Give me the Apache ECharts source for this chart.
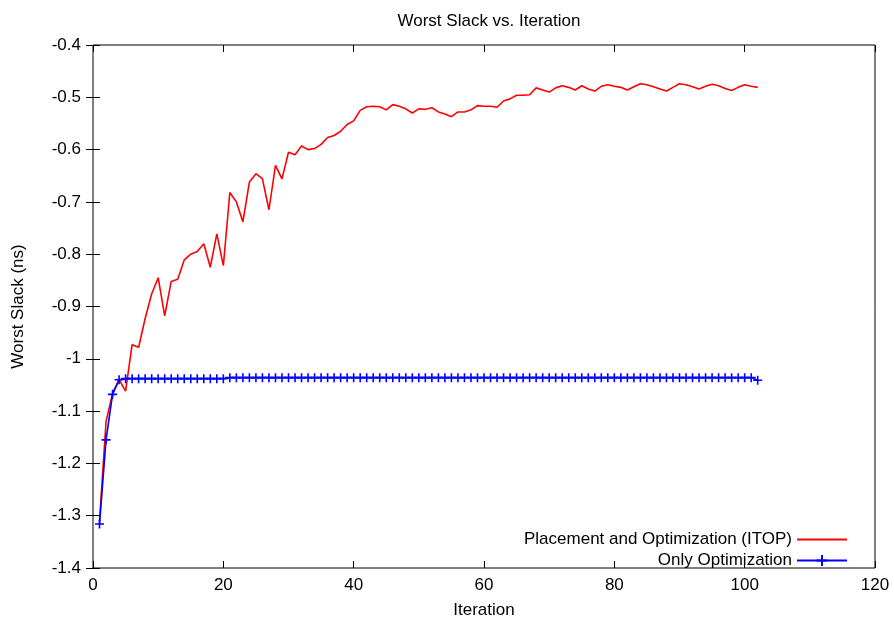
<!DOCTYPE html>
<html>
<head>
<meta charset="utf-8">
<title>Worst Slack vs. Iteration</title>
<script src="https://cdn.jsdelivr.net/npm/echarts@6/dist/echarts.min.js"></script>
<style>
  html, body { margin: 0; padding: 0; background: #fff; }
  #chart { width: 894px; height: 624px; }
</style>
</head>
<body>
<div id="chart"></div>
<script>
// Worst slack (ns) per iteration, iterations start at 1
const itopSlack = [
  -1.310, -1.120, -1.066, -1.040, -1.062, -0.973, -0.978, -0.923, -0.876, -0.845,
  -0.918, -0.852, -0.848, -0.811, -0.800, -0.795, -0.780, -0.825, -0.761, -0.822,
  -0.682, -0.700, -0.738, -0.662, -0.646, -0.656, -0.715, -0.630, -0.656, -0.605,
  -0.610, -0.593, -0.600, -0.598, -0.590, -0.577, -0.573, -0.565, -0.552, -0.545,
  -0.525, -0.518, -0.517, -0.518, -0.524, -0.514, -0.517, -0.522, -0.530, -0.522,
  -0.523, -0.520, -0.528, -0.532, -0.537, -0.528, -0.528, -0.524, -0.516, -0.517,
  -0.517, -0.519, -0.507, -0.503, -0.496, -0.496, -0.495, -0.482, -0.486, -0.490,
  -0.482, -0.478, -0.481, -0.486, -0.478, -0.484, -0.488, -0.479, -0.476, -0.479,
  -0.481, -0.486, -0.480, -0.474, -0.476, -0.480, -0.484, -0.488, -0.481, -0.474,
  -0.476, -0.480, -0.484, -0.479, -0.475, -0.478, -0.483, -0.487, -0.481, -0.476,
  -0.479, -0.481
];

const optOnlySlack = [
  -1.316, -1.155, -1.068, -1.040, -1.038, -1.038, -1.038, -1.038, -1.038, -1.038,
  -1.038, -1.038, -1.038, -1.038, -1.038, -1.038, -1.038, -1.038, -1.038, -1.038,
  -1.036, -1.036, -1.036, -1.036, -1.036, -1.036, -1.036, -1.036, -1.036, -1.036,
  -1.036, -1.036, -1.036, -1.036, -1.036, -1.036, -1.036, -1.036, -1.036, -1.036,
  -1.036, -1.036, -1.036, -1.036, -1.036, -1.036, -1.036, -1.036, -1.036, -1.036,
  -1.036, -1.036, -1.036, -1.036, -1.036, -1.036, -1.036, -1.036, -1.036, -1.036,
  -1.036, -1.036, -1.036, -1.036, -1.036, -1.036, -1.036, -1.036, -1.036, -1.036,
  -1.036, -1.036, -1.036, -1.036, -1.036, -1.036, -1.036, -1.036, -1.036, -1.036,
  -1.036, -1.036, -1.036, -1.036, -1.036, -1.036, -1.036, -1.036, -1.036, -1.036,
  -1.036, -1.036, -1.036, -1.036, -1.036, -1.036, -1.036, -1.036, -1.036, -1.036,
  -1.036, -1.041
];

const seriesNames = ['Placement and Optimization (ITOP)', 'Only Optimization'];

const xTicks = { min: 0, max: 120, step: 20 };
const yTicks = { min: -1.4, max: -0.4, step: 0.1 };

const FONT = '"Liberation Sans", Arial, sans-serif';
const FS = 17;

const toPoints = arr => arr.map((v, i) => [i + 1, v]);
const fmtY = v => String(parseFloat(Number(v).toFixed(1)));

const plusSymbol = 'path://M0,5L10,5M5,0L5,10';

const chart = echarts.init(document.getElementById('chart'), null, { renderer: 'canvas' });

const tickStyle = { show: true, inside: true, length: 7, lineStyle: { color: '#000', width: 1 } };

chart.setOption({
  animation: false,
  backgroundColor: '#fff',
  title: {
    text: 'Worst Slack vs. Iteration',
    left: 484,
    textAlign: 'center',
    top: 8,
    textStyle: { fontFamily: FONT, fontSize: FS, fontWeight: 'normal', color: '#000' }
  },
  legend: {
    orient: 'vertical',
    align: 'right',
    right: 41,
    top: 526,
    itemWidth: 50,
    itemHeight: 14,
    itemGap: 4,
    textStyle: { fontFamily: FONT, fontSize: FS, color: '#000' },
    data: seriesNames
  },
  grid: {
    left: 93, top: 45, right: 19, bottom: 52,
    show: true,
    borderColor: '#000',
    borderWidth: 1,
    containLabel: false
  },
  xAxis: [
    {
      type: 'value',
      min: xTicks.min, max: xTicks.max, interval: xTicks.step,
      name: 'Iteration',
      nameLocation: 'middle',
      nameGap: 34,
      nameTextStyle: { fontFamily: FONT, fontSize: FS, color: '#000' },
      axisLine: { show: false },
      axisTick: tickStyle,
      axisLabel: { fontFamily: FONT, fontSize: FS, color: '#000', margin: 9 },
      splitLine: { show: false }
    },
    {
      type: 'value', position: 'top',
      min: xTicks.min, max: xTicks.max, interval: xTicks.step,
      axisLine: { show: false },
      axisTick: tickStyle,
      axisLabel: { show: false },
      splitLine: { show: false }
    }
  ],
  yAxis: [
    {
      type: 'value',
      min: yTicks.min, max: yTicks.max, interval: yTicks.step,
      name: 'Worst Slack (ns)',
      nameLocation: 'middle',
      nameGap: 66,
      nameRotate: 90,
      nameTextStyle: { fontFamily: FONT, fontSize: FS, color: '#000' },
      axisLine: { show: false },
      axisTick: tickStyle,
      axisLabel: { fontFamily: FONT, fontSize: FS, color: '#000', margin: 12, formatter: fmtY },
      splitLine: { show: false }
    },
    {
      type: 'value', position: 'right',
      min: yTicks.min, max: yTicks.max, interval: yTicks.step,
      axisLine: { show: false },
      axisTick: tickStyle,
      axisLabel: { show: false },
      splitLine: { show: false }
    }
  ],
  series: [
    {
      name: seriesNames[0],
      type: 'line',
      data: toPoints(itopSlack),
      symbol: 'circle',
      showSymbol: false,
      lineStyle: { color: '#ff0000', width: 1.6 },
      // plain line in the key: the point marker is left invisible
      itemStyle: { color: 'rgba(0,0,0,0)', borderWidth: 0 },
      emphasis: { disabled: true },
      z: 2
    },
    {
      name: seriesNames[1],
      type: 'line',
      data: toPoints(optOnlySlack),
      symbol: plusSymbol,
      symbolSize: 9,
      showAllSymbol: true,
      lineStyle: { color: '#0000ff', width: 1.6 },
      itemStyle: { color: '#0000ff', borderColor: '#0000ff', borderWidth: 1.6 },
      z: 3
    }
  ]
});
</script>
</body>
</html>
